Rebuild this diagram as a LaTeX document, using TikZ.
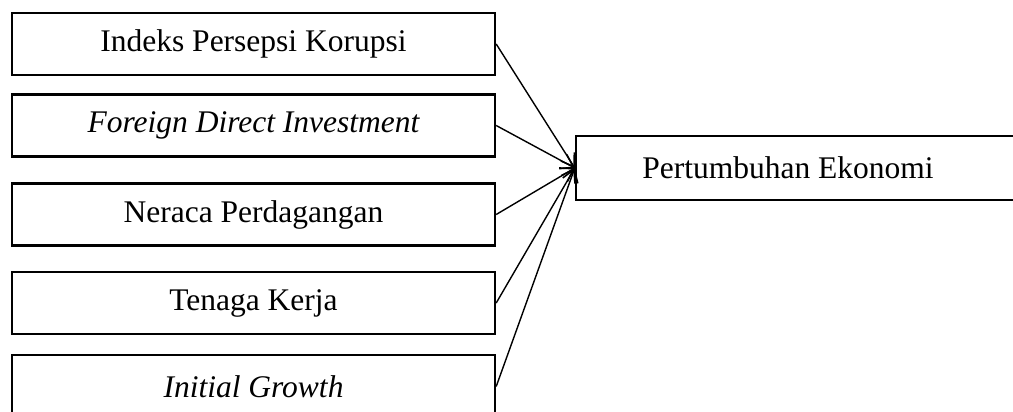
\documentclass[tikz,border=0pt]{standalone}
\usepackage{fontspec}
\setmainfont{Liberation Serif}
\usetikzlibrary{arrows.meta}
\begin{document}
\begin{tikzpicture}[x=1pt,y=-1pt,
  varbox/.style={draw,line width=2.4pt,minimum width=483pt,minimum height=62pt,inner sep=0pt,
    font=\fontsize{31.5}{38}\selectfont},
  lbl/.style={font=\fontsize{31.5}{38}\selectfont,inner sep=0pt},
  conn/.style={line width=1.4pt,-{Straight Barb[length=12pt,width=16pt,line width=1.6pt]}}]
\useasboundingbox (0,0) rectangle (1013,412);
\clip (0,0) rectangle (1013,412);
\node[varbox] (ipk) at (253.5,44) {Indeks Persepsi Korupsi};
\node[varbox] (fdi) at (253.5,125.5) {\itshape Foreign Direct Investment};
\node[varbox] (np) at (253.5,214.5) {Neraca Perdagangan};
\node[varbox] (tk) at (253.5,303) {Tenaga Kerja};
\node[varbox,minimum height=63pt] (ig) at (253.5,386.5) {\itshape Initial Growth};
\node[draw,line width=2.4pt,minimum width=460pt,minimum height=64pt,inner sep=0pt] (pe) at (806,168) {};
\node[lbl] (pet) at (788,168) {Pertumbuhan Ekonomi};
\draw[conn] (ipk.east) -- (pe.west);
\draw[conn] (fdi.east) -- (pe.west);
\draw[conn] (np.east) -- (pe.west);
\draw[conn] (tk.east) -- (pe.west);
\draw[conn] (ig.east) -- (pe.west);
\end{tikzpicture}
\end{document}
